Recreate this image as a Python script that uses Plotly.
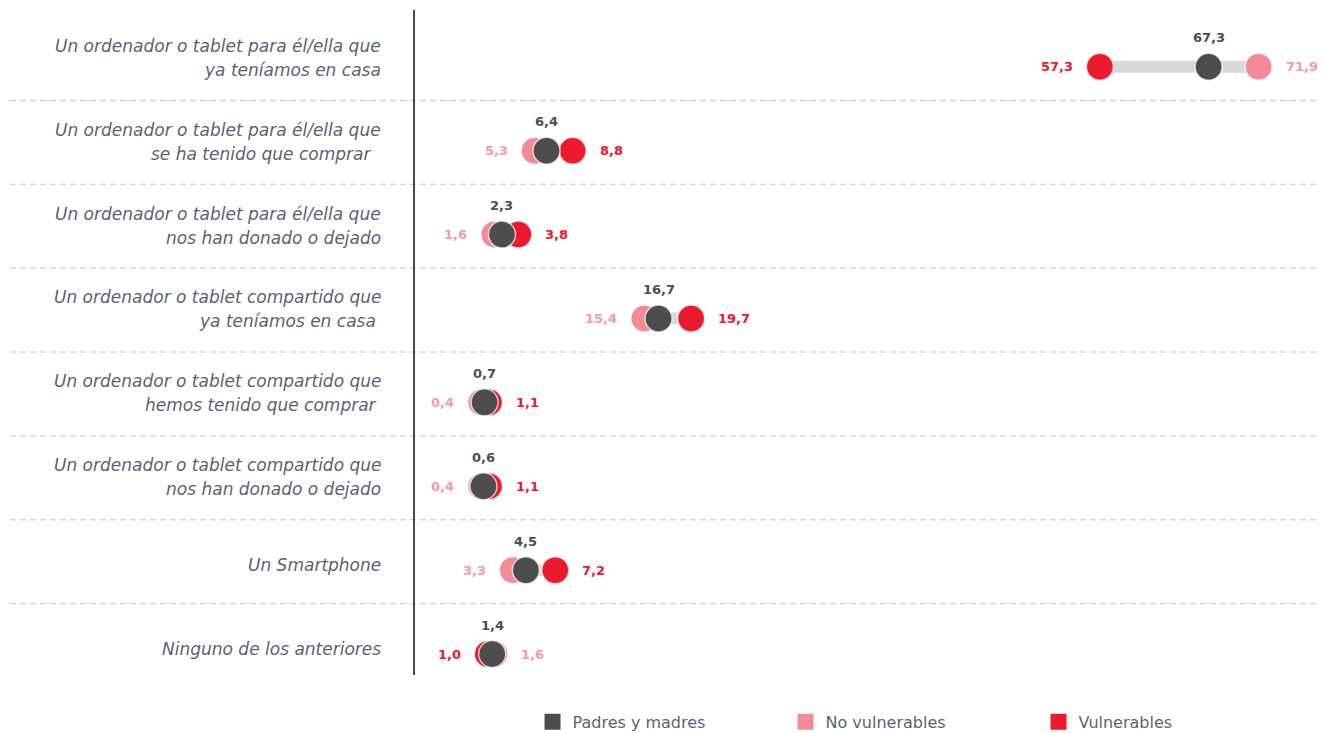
import plotly.graph_objects as go

# ---------------- data ----------------
cat_line1 = [
    "Un ordenador o tablet para él/ella que",
    "Un ordenador o tablet para él/ella que",
    "Un ordenador o tablet para él/ella que",
    "Un ordenador o tablet compartido que",
    "Un ordenador o tablet compartido que",
    "Un ordenador o tablet compartido que",
    "Un Smartphone",
    "Ninguno de los anteriores",
]
cat_line2 = [
    "ya teníamos en casa",
    "se ha tenido que comprar\u00a0\u00a0",
    "nos han donado o dejado",
    "ya teníamos en casa\u00a0",
    "hemos tenido que comprar\u00a0",
    "nos han donado o dejado",
    "",
    "",
]
padres = [67.3, 6.4, 2.3, 16.7, 0.7, 0.6, 4.5, 1.4]
no_vuln = [71.9, 5.3, 1.6, 15.4, 0.4, 0.4, 3.3, 1.6]
vuln = [57.3, 8.8, 3.8, 19.7, 1.1, 1.1, 7.2, 1.0]
series_names = ["Padres y madres", "No vulnerables", "Vulnerables"]

# ---------------- styles ----------------
FONT = "DejaVu Sans"
C_GRAY = "#4d4d4d"
C_PINK = "#f28b95"
C_RED = "#ec1a2e"
C_PINK_TXT = "#f59ba3"
C_RED_TXT = "#e8192c"
C_LABEL = "#5c5f77"
MSIZE = 27

rows = list(range(len(padres)))


def fmt(v):
    return f"{v:.1f}".replace(".", ",")


fig = go.Figure()

# connector lines
lx, ly = [], []
for i in rows:
    vals = [padres[i], no_vuln[i], vuln[i]]
    lx += [min(vals), max(vals), None]
    ly += [i, i, None]
fig.add_trace(go.Scatter(x=lx, y=ly, mode="lines", line=dict(color="#d9d9d9", width=12),
                         showlegend=False, hoverinfo="skip"))

mline = dict(color="rgba(255,255,255,0.7)", width=1.5)
fig.add_trace(go.Scatter(x=no_vuln, y=rows, mode="markers", name=series_names[1],
                         marker=dict(color=C_PINK, size=MSIZE, line=mline), showlegend=False))
fig.add_trace(go.Scatter(x=vuln, y=rows, mode="markers", name=series_names[2],
                         marker=dict(color=C_RED, size=MSIZE, line=mline), showlegend=False))
fig.add_trace(go.Scatter(x=padres, y=rows, mode="markers", name=series_names[0],
                         marker=dict(color=C_GRAY, size=MSIZE, line=mline), showlegend=False))

# legend-only traces
for name, col in zip(series_names, [C_GRAY, C_PINK, C_RED]):
    fig.add_trace(go.Scatter(x=[None], y=[None], mode="markers", name=name,
                             marker=dict(color=col, size=16, symbol="square"), showlegend=True))

annotations = []
# value labels
for i in rows:
    annotations.append(dict(x=padres[i], y=i, xref="x", yref="y", text=fmt(padres[i]),
                            showarrow=False, xanchor="center", yanchor="middle", yshift=29,
                            font=dict(family=FONT, size=13, color=C_GRAY, weight="bold")))
    pairs = [(no_vuln[i], C_PINK_TXT), (vuln[i], C_RED_TXT)]
    lo, hi = sorted(pairs, key=lambda p: p[0])
    annotations.append(dict(x=lo[0], y=i, xref="x", yref="y", text=fmt(lo[0]),
                            showarrow=False, xanchor="right", yanchor="middle", xshift=-25,
                            font=dict(family=FONT, size=13, color=lo[1], weight="bold")))
    annotations.append(dict(x=hi[0], y=i, xref="x", yref="y", text=fmt(hi[0]),
                            showarrow=False, xanchor="left", yanchor="middle", xshift=25,
                            font=dict(family=FONT, size=13, color=hi[1], weight="bold")))

# category labels
LAB_X = -0.0351
for i in rows:
    lab_font = dict(family=FONT, size=17, color=C_LABEL, style="italic")
    if cat_line2[i]:
        annotations.append(dict(x=LAB_X, y=i, xref="paper", yref="y", text=cat_line1[i],
                                showarrow=False, xanchor="right", yanchor="middle", yshift=21,
                                font=lab_font))
        annotations.append(dict(x=LAB_X, y=i, xref="paper", yref="y", text=cat_line2[i],
                                showarrow=False, xanchor="right", yanchor="middle", yshift=-3,
                                font=lab_font))
    else:
        annotations.append(dict(x=LAB_X, y=i, xref="paper", yref="y", text=cat_line1[i],
                                showarrow=False, xanchor="right", yanchor="middle", yshift=5,
                                font=lab_font))

# dashed separators
shapes = []
for i in rows[:-1]:
    shapes.append(dict(type="line", xref="paper", yref="y", x0=-0.4446, x1=1.01,
                       y0=i + 0.40, y1=i + 0.40, layer="below",
                       line=dict(color="#c4c4c4", width=1, dash="6px,4px")))

fig.update_layout(
    width=1326, height=733,
    margin=dict(l=407, r=8, t=2, b=64),
    paper_bgcolor="white", plot_bgcolor="white",
    font=dict(family=FONT, color=C_LABEL),
    xaxis=dict(range=[-5.7, 78.1], showgrid=False, zeroline=False, showticklabels=False,
               ticks="", showline=False),
    yaxis=dict(range=[7.25, -0.677], showgrid=False, zeroline=False, showticklabels=False,
               ticks="", showline=True, linecolor="#4a4a4a", linewidth=2),
    annotations=annotations,
    shapes=shapes,
    showlegend=True,
    legend=dict(orientation="h", x=0.129, xanchor="left", y=-0.0705, yanchor="middle",
                entrywidth=208, entrywidthmode="pixels", itemsizing="trace",
                font=dict(family=FONT, size=16, color=C_LABEL), bgcolor="rgba(0,0,0,0)"),
)

fig.write_html("out.html")
